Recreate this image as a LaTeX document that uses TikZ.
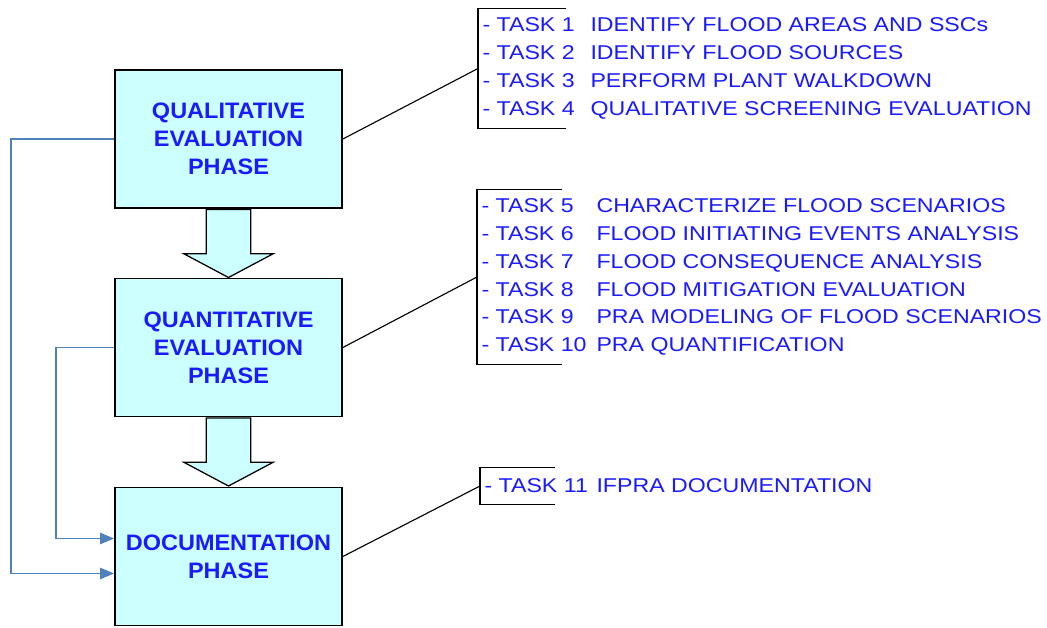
\documentclass[tikz,border=0pt]{standalone}
\usepackage{fontspec}
\setmainfont{Liberation Sans}
\newfontfamily\taskfont[FakeStretch = 1.16]{Liberation Sans}
\newfontfamily\phasefont[FakeStretch = 1.05]{Liberation Sans}
\usepackage{xcolor}
\usepackage{tikz}
\usetikzlibrary{arrows.meta}
\usetikzlibrary{positioning, shapes.arrows, calc}
\definecolor{phasefill}{HTML}{CCFFFF}
\definecolor{phasetext}{HTML}{1A1AFF}
\definecolor{loopline}{HTML}{4F81BD}
\newcommand{\tasktag}[2]{\makebox[#1][l]{#2}}
\tikzset{
phase/.style = { rectangle, draw = black, line width = 1.2pt, fill = phasefill, minimum width = 5.675cm, minimum height = 3.45cm, align = center, text = phasetext, font = \phasefont\bfseries\fontsize{15.9}{20}\selectfont },
phase step/.style = { single arrow, draw = black, line width = 0.9pt, fill = phasefill, rotate = -90, anchor = tail, minimum height = 1.7cm, inner xsep = 0pt, inner ysep = 0.5375cm, single arrow head extend = 0.5625cm, single arrow tip angle = 124 },
task list/.style = { rectangle, anchor = west, align = left, text = phasetext, font = \taskfont\fontsize{14.2}{19.85}\selectfont, inner xsep = 3pt, inner ysep = 0pt },
bracket/.style = { draw = black, line width = 1pt },
link/.style = { draw = black, line width = 0.8pt },
feedback/.style = { draw = loopline, line width = 1.2pt, -{Triangle[length = 10pt, width = 8pt]} },
}
\begin{document}
\begin{tikzpicture}[x = 0.025cm, y = -0.025cm]
    \useasboundingbox (0, 0) rectangle (1047, 628);
    % phases
    \node[phase] (qual) at (228.5, 139) {QUALITATIVE\\EVALUATION\\PHASE};
    \node[phase] (quant) at (228.5, 347.5) {QUANTITATIVE\\EVALUATION\\PHASE};
    \node[phase] (doc) at (228.5, 556.5) {DOCUMENTATION\\PHASE};
    \node[phase step] (step1) at (qual.south) {};
    \node[phase step] (step2) at (quant.south) {};
    % task lists
    \node[task list, minimum height = 2.975cm] (tasks1) at (478, 68.5) {\tasktag{2.7cm}{- TASK 1}IDENTIFY FLOOD AREAS AND SSCs\\
        \tasktag{2.7cm}{- TASK 2}IDENTIFY FLOOD SOURCES\\
        \tasktag{2.7cm}{- TASK 3}PERFORM PLANT WALKDOWN\\
        \tasktag{2.7cm}{- TASK 4}QUALITATIVE SCREENING EVALUATION};
    \node[task list, minimum height = 4.35cm] (tasks2) at (477, 277) {\tasktag{2.875cm}{- TASK 5}CHARACTERIZE FLOOD SCENARIOS\\
        \tasktag{2.875cm}{- TASK 6}FLOOD INITIATING EVENTS ANALYSIS\\
        \tasktag{2.875cm}{- TASK 7}FLOOD CONSEQUENCE ANALYSIS\\
        \tasktag{2.875cm}{- TASK 8}FLOOD MITIGATION EVALUATION\\
        \tasktag{2.875cm}{- TASK 9}PRA MODELING OF FLOOD SCENARIOS\\
        \tasktag{2.875cm}{- TASK 10}PRA QUANTIFICATION};
    \node[task list, minimum height = 0.9cm] (tasks3) at (480, 486) {\tasktag{2.8cm}{- TASK 11}IFPRA DOCUMENTATION};
    \draw[bracket] ($(tasks1.north west)+(88, 0)$) -- (tasks1.north west) -- (tasks1.south west) -- ++(88, 0);
    \draw[bracket] ($(tasks2.north west)+(85, 0)$) -- (tasks2.north west) -- (tasks2.south west) -- ++(85, 0);
    \draw[bracket] ($(tasks3.north west)+(75, 0)$) -- (tasks3.north west) -- (tasks3.south west) -- ++(75, 0);
    \draw[link] (qual.east) -- (tasks1.west);
    \draw[link] (quant.east) -- (tasks2.west);
    \draw[link] (doc.east) -- (tasks3.west);
    % feedback to documentation
    \draw[feedback] (qual.west) -- ++(-103, 0) |- ($(doc.west)+(0, 17)$);
    \draw[feedback] (quant.west) -- ++(-58, 0) |- ($(doc.west)+(0, -18)$);
\end{tikzpicture}
\end{document}
